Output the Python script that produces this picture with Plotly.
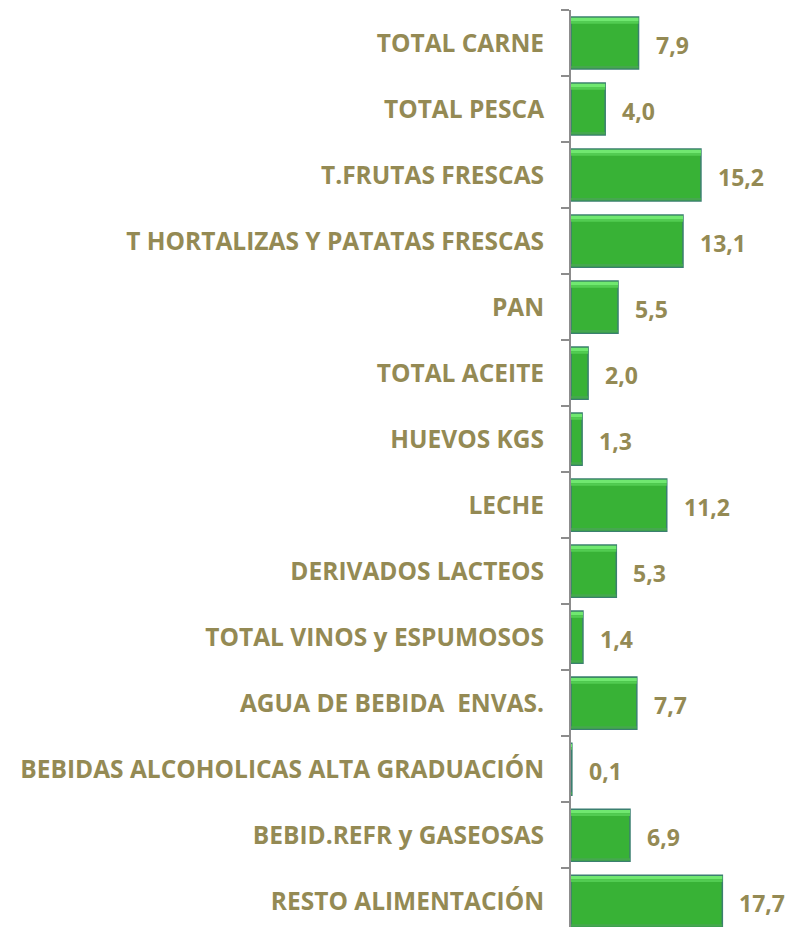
import plotly.graph_objects as go

categories = [
    "TOTAL CARNE",
    "TOTAL PESCA",
    "T.FRUTAS FRESCAS",
    "T HORTALIZAS Y PATATAS FRESCAS",
    "PAN",
    "TOTAL ACEITE",
    "HUEVOS KGS",
    "LECHE",
    "DERIVADOS LACTEOS",
    "TOTAL VINOS y ESPUMOSOS",
    "AGUA DE BEBIDA  ENVAS.",
    "BEBIDAS ALCOHOLICAS ALTA GRADUACIÓN",
    "BEBID.REFR y GASEOSAS",
    "RESTO ALIMENTACIÓN",
]
values = [7.9, 4.0, 15.2, 13.1, 5.5, 2.0, 1.3, 11.2, 5.3, 1.4, 7.7, 0.1, 6.9, 17.7]
value_labels = [f"{v:.1f}".replace(".", ",") for v in values]

TEXT = "#948A54"
FONT = "Open Sans, sans-serif"

fig = go.Figure()
fig.add_trace(go.Bar(
    x=values, y=categories, orientation="h", width=0.79,
    marker=dict(color="#38B236", line=dict(color="#3B7F70", width=1.5)),
    hoverinfo="x+y",
))
# bevel look: light strips at top, muted strip at bottom
fig.add_trace(go.Bar(
    x=values, y=categories, orientation="h", width=0.05, offset=-0.383,
    marker=dict(color="#70E870", line=dict(width=0)), hoverinfo="skip",
))
fig.add_trace(go.Bar(
    x=values, y=categories, orientation="h", width=0.04, offset=-0.333,
    marker=dict(color="#52CC52", line=dict(width=0)), hoverinfo="skip",
))
fig.add_trace(go.Bar(
    x=values, y=categories, orientation="h", width=0.035, offset=0.348,
    marker=dict(color="#45A84E", line=dict(width=0)), hoverinfo="skip",
))

for c, v, t in zip(categories, values, value_labels):
    fig.add_annotation(x=v, y=c, text=f"<b>{t}</b>", showarrow=False,
                       xanchor="left", xshift=15, yshift=-2,
                       font=dict(family=FONT, size=23, color=TEXT))

fig.update_layout(
    width=786, height=919,
    margin=dict(l=563, r=52, t=2, b=0),
    plot_bgcolor="white", paper_bgcolor="white",
    barmode="overlay", showlegend=False,
    xaxis=dict(range=[0, 20], visible=False, showgrid=False, zeroline=False),
    yaxis=dict(
        autorange=False, range=[13.39, -0.5],
        showline=True, linecolor="#8C8C8C", linewidth=2,
        ticks="outside", tickson="boundaries", ticklen=8, tickcolor="#8C8C8C", tickwidth=2,
        ticklabelstandoff=20,
        tickfont=dict(family=FONT, size=24.5, color=TEXT, weight="bold"),
        showgrid=False, automargin=False,
    ),
)

fig.write_html("out.html")
